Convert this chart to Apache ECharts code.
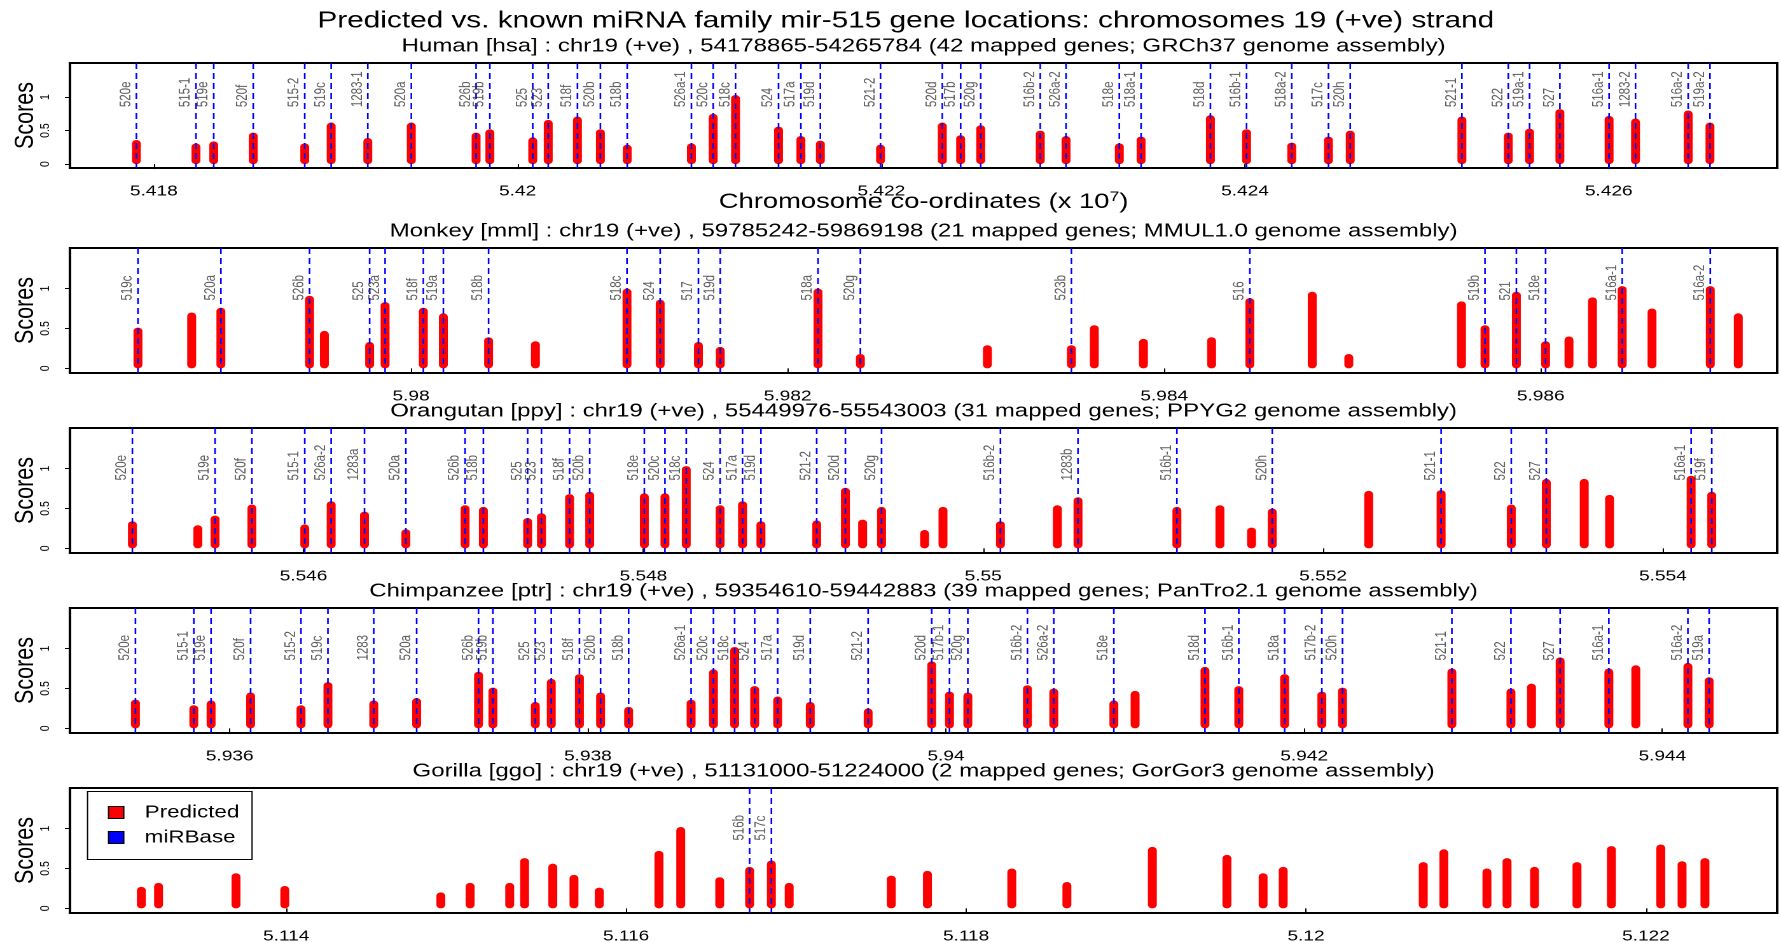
<!DOCTYPE html>
<html><head><meta charset="utf-8">
<script src="https://cdn.jsdelivr.net/npm/echarts@6/dist/echarts.min.js"></script>
<style>
html,body{margin:0;padding:0;background:#fff;overflow:hidden;}
#wrap{width:1781px;height:942px;overflow:hidden;position:relative;}
#chart{width:1400px;height:942px;transform:scaleX(1.272143);transform-origin:0 0;}
</style></head><body><div id="wrap"><div id="chart"></div></div>
<script>
// ---------------- DATA ----------------
const mainTitle = 'Predicted vs. known miRNA family mir-515 gene locations: chromosomes 19 (+ve) strand';
const panelTitles = [
  'Human [hsa] : chr19 (+ve) , 54178865-54265784 (42 mapped genes; GRCh37 genome assembly)',
  'Monkey [mml] : chr19 (+ve) , 59785242-59869198 (21 mapped genes; MMUL1.0 genome assembly)',
  'Orangutan [ppy] : chr19 (+ve) , 55449976-55543003 (31 mapped genes; PPYG2 genome assembly)',
  'Chimpanzee [ptr] : chr19 (+ve) , 59354610-59442883 (39 mapped genes; PanTro2.1 genome assembly)',
  'Gorilla [ggo] : chr19 (+ve) , 51131000-51224000 (2 mapped genes; GorGor3 genome assembly)'
];
const panelStart = [54178865, 59785242, 55449976, 59354610, 51131000];
const panelEnd   = [54265784, 59869198, 55543003, 59442883, 51224000];
const xTickLabels = [
  [5.418, 5.42, 5.422, 5.424, 5.426],
  [5.98, 5.982, 5.984, 5.986],
  [5.546, 5.548, 5.55, 5.552, 5.554],
  [5.936, 5.938, 5.94, 5.942, 5.944],
  [5.114, 5.116, 5.118, 5.12, 5.122]
];
const yTickLabels = [0, 0.5, 1];
const xAxisTitle = 'Chromosome co-ordinates (x 10{sup|7})';
const yAxisTitle = 'Scores';
const legendNames = ['Predicted', 'miRBase'];

// Human
const humanGeneNames = ['520e','515-1','519e','520f','515-2','519c','1283-1','520a','526b','519b','525','523','518f','520b','518b','526a-1','520c','518c','524','517a','519d','521-2','520d','517b','520g','516b-2','526a-2','518e','518a-1','518d','516b-1','518a-2','517c','520h','521-1','522','519a-1','527','516a-1','1283-2','516a-2','519a-2'];
const humanGenePos = [54179040,54182316,54183292,54185465,54188296,54189750,54191764,54194156,54197718,54198475,54200834,54201685,54203292,54204554,54206030,54209559,54210755,54211984,54214349,54215578,54216648,54219956,54223353,54224362,54225465,54228741,54230157,54233087,54234283,54238096,54240083,54242568,54244587,54245784,54251924,54254475,54255644,54257312,54260017,54261471,54264368,54265564];
const humanPredPos = [54179040,54182316,54183292,54185465,54188296,54189750,54191764,54194156,54197718,54198475,54200834,54201685,54203292,54204554,54206030,54209559,54210755,54211984,54214349,54215578,54216648,54219956,54223353,54224362,54225465,54228741,54230157,54233087,54234283,54238096,54240083,54242568,54244587,54245784,54251924,54254475,54255644,54257312,54260017,54261471,54264368,54265564];
const humanPredScore = [0.36,0.31,0.34,0.47,0.31,0.62,0.39,0.62,0.47,0.52,0.40,0.66,0.71,0.52,0.29,0.31,0.75,1.03,0.56,0.42,0.35,0.29,0.62,0.43,0.58,0.50,0.42,0.31,0.41,0.73,0.52,0.32,0.41,0.50,0.71,0.47,0.53,0.82,0.72,0.68,0.80,0.62];

// Monkey
const monkeyGeneNames = ['519c','520a','526b','525','523a','518f','519a','518b','518c','524','517','519d','518a','520g','523b','516','519b','521','518e','516a-1','516a-2'];
const monkeyGenePos = [59785495,59789898,59794607,59797799,59798619,59800651,59801715,59804117,59811468,59813230,59815262,59816421,59821613,59823862,59835070,59844548,59857037,59858704,59860255,59864324,59869002];
const monkeyPredPos = [59785495,59788347,59789898,59794607,59795396,59797799,59798619,59800651,59801715,59804117,59806604,59811468,59813230,59815262,59816421,59821613,59823862,59830609,59835070,59836287,59838896,59842516,59844548,59847861,59849803,59855788,59857037,59858704,59860255,59861498,59862747,59864324,59865907,59869002,59870489];
const monkeyPredScore = [0.51,0.70,0.76,0.91,0.47,0.33,0.83,0.76,0.69,0.39,0.34,1.00,0.86,0.33,0.27,1.00,0.18,0.29,0.29,0.54,0.37,0.39,0.88,0.96,0.18,0.84,0.54,0.96,0.34,0.40,0.89,1.03,0.75,1.03,0.69];

// Orangutan
const orangGeneNames = ['520e','519e','520f','515-1','526a-2','1283a','520a','526b','518b','525','523','518f','520b','518e','520c','518c','524','517a','519d','521-2','520d','520g','516b-2','1283b','516b-1','520h','521-1','522','527','516a-1','519f'];
const orangGenePos = [55449928,55454793,55456961,55460071,55461626,55463587,55466020,55469506,55470584,55473188,55474001,55475656,55476840,55480055,55481269,55482523,55484514,55485834,55486917,55490198,55491888,55494015,55501012,55505577,55511396,55517009,55526946,55531075,55533136,55541659,55542872];
const orangPredPos = [55449928,55453780,55454793,55456961,55460071,55461626,55463587,55466020,55469506,55470584,55473188,55474001,55475656,55476840,55480055,55481269,55482523,55484514,55485834,55486917,55490198,55491888,55492902,55494015,55496547,55497631,55501012,55504363,55505577,55511396,55513929,55515790,55517009,55522687,55526946,55531075,55533136,55535368,55536859,55541659,55542872];
const orangPredScore = [0.34,0.29,0.41,0.55,0.30,0.59,0.46,0.24,0.54,0.52,0.38,0.44,0.68,0.71,0.69,0.69,1.03,0.54,0.59,0.34,0.35,0.76,0.36,0.52,0.23,0.52,0.34,0.54,0.64,0.52,0.54,0.26,0.50,0.72,0.73,0.55,0.87,0.87,0.67,0.91,0.71];

// Chimpanzee
const chimpGeneNames = ['520e','515-1','519e','520f','515-2','519c','1283','520a','526b','519b','525','523','518f','520b','518b','526a-1','520c','518c','524','517a','519d','521-2','520d','517b-1','520g','516b-2','526a-2','518e','518d','516b-1','518a','517b-2','520h','521-1','522','527','516a-1','516a-2','519a'];
const chimpGenePos = [59354734,59357994,59358958,59361165,59363979,59365484,59368042,59370438,59373894,59374696,59377064,59377956,59379528,59380709,59382275,59385764,59387012,59388194,59389314,59390596,59392418,59395650,59399200,59400193,59401218,59404545,59406016,59409371,59414459,59416349,59418907,59420985,59422139,59428247,59431546,59434294,59437013,59441427,59442614];
const chimpPredPos = [59354734,59357994,59358958,59361165,59363979,59365484,59368042,59370438,59373894,59374696,59377064,59377956,59379528,59380709,59382275,59385764,59387012,59388194,59389314,59390596,59392418,59395650,59399200,59400193,59401218,59404545,59406016,59409371,59410558,59414459,59416349,59418907,59420985,59422139,59428247,59431546,59432694,59434294,59437013,59438518,59441427,59442614];
const chimpPredScore = [0.36,0.29,0.35,0.45,0.29,0.58,0.35,0.38,0.71,0.51,0.33,0.62,0.68,0.45,0.27,0.36,0.74,1.02,0.53,0.40,0.33,0.25,0.84,0.46,0.45,0.54,0.50,0.35,0.47,0.77,0.53,0.68,0.46,0.51,0.75,0.50,0.56,0.89,0.75,0.79,0.82,0.64];

// Gorilla
const gorillaGeneNames = ['516b','517c'];
const gorillaGenePos = [51167264,51168546];
const gorillaPredPos = [51131478,51132490,51137048,51139918,51149098,51150821,51153150,51154026,51155685,51156931,51158419,51161930,51163212,51165506,51167264,51168546,51169593,51175598,51177727,51182690,51185931,51190959,51195346,51197475,51198657,51206896,51208108,51210643,51211825,51213442,51215941,51217964,51220870,51222122,51223469];
const gorillaPredScore = [0.27,0.32,0.44,0.28,0.20,0.32,0.32,0.63,0.56,0.42,0.26,0.72,1.02,0.39,0.52,0.60,0.32,0.41,0.47,0.50,0.33,0.77,0.67,0.44,0.52,0.58,0.74,0.50,0.63,0.52,0.58,0.78,0.80,0.59,0.63];

// ---------------- LAYOUT / STYLE ----------------
const FONT = '"Liberation Sans", Arial, Helvetica, sans-serif';
const W0 = 1400;
const gridLeft = 55, gridRight = 3;
const gridTop = [63, 248, 428, 608, 788];
const gridHeight = [105, 125, 125, 125, 125];
const yMin = -0.058, yMax = 1.508;
const geneLabelLevel = 0.85;

const panels = [
  {names: humanGeneNames, genes: humanGenePos, pred: humanPredPos, score: humanPredScore},
  {names: monkeyGeneNames, genes: monkeyGenePos, pred: monkeyPredPos, score: monkeyPredScore},
  {names: orangGeneNames, genes: orangGenePos, pred: orangPredPos, score: orangPredScore},
  {names: chimpGeneNames, genes: chimpGenePos, pred: chimpPredPos, score: chimpPredScore},
  {names: gorillaGeneNames, genes: gorillaGenePos, pred: gorillaPredPos, score: gorillaPredScore}
];

const grids = [], xAxes = [], yAxes = [], series = [], graphics = [];
const gridCenterX = (gridLeft + (W0 - gridRight)) / 2;

graphics.push({type:'text', x: 712, y: 21, silent: true,
  style: {text: mainTitle, fontSize: 23.4, fontFamily: FONT, fill: '#000', align: 'center', verticalAlign: 'middle'}});

function dashedGeneLine(params, api) {
  const x = api.value(0);
  const a = api.coord([x, yMax]);
  const b = api.coord([x, yMin]);
  return {type: 'line', silent: true,
    shape: {x1: a[0], y1: a[1], x2: b[0], y2: b[1]},
    style: {stroke: '#0000ff', lineWidth: 1.3, lineDash: [6, 4]}};
}

panels.forEach((p, i) => {
  const span = panelEnd[i] - panelStart[i];
  grids.push({left: gridLeft, right: gridRight, top: gridTop[i], height: gridHeight[i],
    show: true, borderColor: '#000', borderWidth: 2, backgroundColor: 'transparent',
    containLabel: false, outerBoundsMode: 'none'});
  graphics.push({type:'text', x: gridCenterX, y: gridTop[i] - 16.5, silent: true,
    style: {text: panelTitles[i], fontSize: 18.9, fontFamily: FONT, fill: '#000', align: 'center', verticalAlign: 'middle'}});
  const xa = {
    type: 'value', gridIndex: i,
    min: (panelStart[i] - 0.04 * span) / 1e7,
    max: (panelEnd[i] + 0.04 * span) / 1e7,
    splitLine: {show: false},
    axisLine: {show: false},
    axisTick: {show: true, customValues: xTickLabels[i], length: 5, lineStyle: {color: '#000', width: 1}},
    axisLabel: {show: true, customValues: xTickLabels[i], fontSize: 15, fontFamily: FONT, color: '#000', margin: 16,
      formatter: v => String(+v.toFixed(3))}
  };
  if (i === 0) {
    Object.assign(xa, {name: xAxisTitle, nameLocation: 'middle', nameGap: 22, nameMoveOverlap: false,
      nameTextStyle: {fontSize: 21.5, fontFamily: FONT, color: '#000', lineHeight: 24,
        rich: {sup: {fontSize: 14, fontFamily: FONT, color: '#000', verticalAlign: 'top', lineHeight: 14}}}});
  }
  xAxes.push(xa);
  yAxes.push({
    type: 'value', gridIndex: i, min: yMin, max: yMax,
    splitLine: {show: false}, axisLine: {show: false},
    axisTick: {show: true, customValues: yTickLabels, length: 4, lineStyle: {color: '#000', width: 1}},
    axisLabel: {show: true, customValues: yTickLabels, rotate: 90, fontSize: 10.5, fontFamily: FONT, color: '#000', margin: 14},
    name: yAxisTitle, nameLocation: 'middle', nameRotate: 90, nameGap: 24, nameMoveOverlap: false,
    nameTextStyle: {fontSize: 21.5, fontFamily: FONT, color: '#000'}
  });
  series.push({
    type: 'bar', name: legendNames[0], xAxisIndex: i, yAxisIndex: i, silent: true, animation: false,
    barWidth: 7, z: 2,
    itemStyle: {color: '#ff0000', borderRadius: 3.5},
    data: p.pred.map((x, k) => [x / 1e7, p.score[k]])
  });
  series.push({
    type: 'custom', name: legendNames[1], xAxisIndex: i, yAxisIndex: i, silent: true, animation: false,
    z: 3, itemStyle: {color: '#0000ff'},
    encode: {x: 0, y: 1},
    renderItem: dashedGeneLine,
    data: p.genes.map(x => [x / 1e7, 0])
  });
  series.push({
    type: 'scatter', name: legendNames[1], xAxisIndex: i, yAxisIndex: i, silent: true, animation: false,
    symbolSize: 0, z: 4, itemStyle: {color: '#0000ff'},
    label: {show: true, formatter: '{b}', position: [0, 0], rotate: 90, align: 'left', verticalAlign: 'bottom',
      padding: [0, 0, 2, 0], fontSize: 11.5, fontFamily: FONT, color: '#333'},
    data: p.genes.map((x, k) => ({name: p.names[k], value: [x / 1e7, geneLabelLevel]}))
  });
});

const option = {
  animation: false,
  backgroundColor: '#fff',
  textStyle: {fontFamily: FONT},
  grid: grids, xAxis: xAxes, yAxis: yAxes, series: series,
  graphic: graphics,
  legend: {
    show: true, orient: 'vertical', left: 68.8, top: 791.5, selectedMode: false,
    backgroundColor: '#fff', borderColor: '#000', borderWidth: 1, borderRadius: 0,
    padding: [11, 10, 12, 16], itemGap: 5, itemWidth: 12, itemHeight: 12,
    textStyle: {fontSize: 17.6, fontFamily: FONT, color: '#000', lineHeight: 20, padding: [0, 0, 0, 11.5]},
    data: [
      {name: legendNames[0], icon: 'rect', itemStyle: {color: '#ff0000', borderColor: '#000', borderWidth: 1}},
      {name: legendNames[1], icon: 'rect', itemStyle: {color: '#0000ff', borderColor: '#000', borderWidth: 1}}
    ]
  }
};

const chart = echarts.init(document.getElementById('chart'), null, {renderer: 'canvas', devicePixelRatio: 2, width: 1400, height: 942});
chart.setOption(option);
</script></body></html>
